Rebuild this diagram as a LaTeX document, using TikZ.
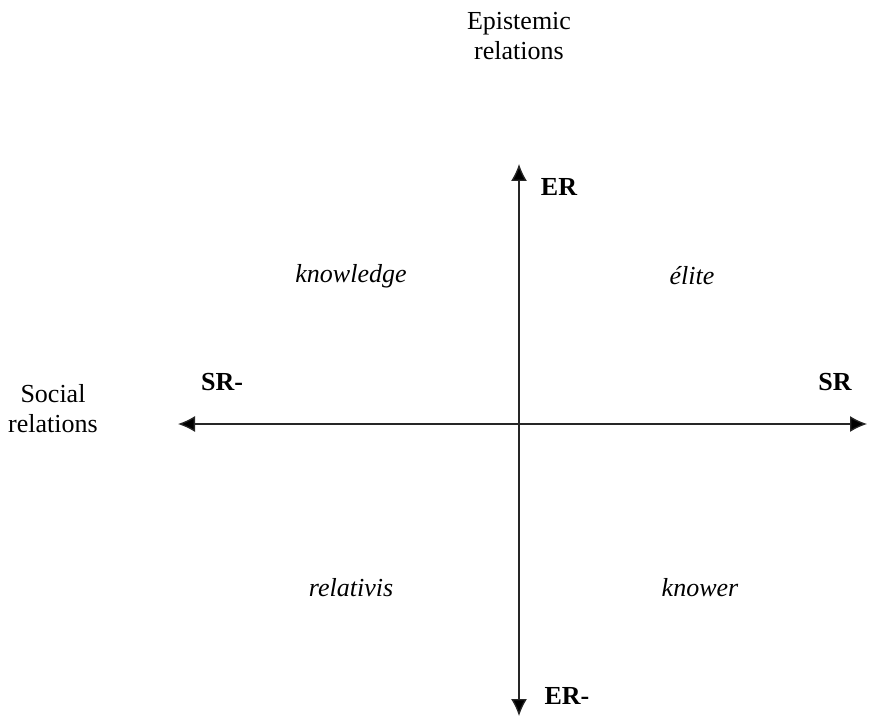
\documentclass[tikz,border=0pt]{standalone}
\usepackage{fontspec}
\setmainfont{Liberation Serif}
\usetikzlibrary{arrows.meta}
\begin{document}
\begin{tikzpicture}[x=1pt,y=-1pt,
  axis/.style={line width=1.3pt,draw=black!85,{Latex[length=17pt,width=16pt,fill=black]}-{Latex[length=17pt,width=16pt,fill=black]}},
  lbl/.style={font=\fontsize{26}{30}\selectfont,inner sep=0pt,align=center},
  pole/.style={font=\fontsize{26}{30}\selectfont\bfseries,inner sep=0pt},
  quad/.style={font=\fontsize{26}{30}\selectfont\itshape,inner sep=0pt}]
\useasboundingbox (0,0) rectangle (872,719);
\coordinate (top) at (519,164);
\coordinate (bot) at (519,716);
\coordinate (left) at (178,424);
\coordinate (right) at (867,424);
\draw[axis] (bot) -- (top);
\draw[axis] (left) -- (right);
\node[lbl] (ert) at (519,36) {Epistemic\\relations};
\node[lbl] (srt) at (53,409) {Social\\relations};
\node[pole] (er) at (559,187) {ER};
\node[pole] (erm) at (567,696) {ER-};
\node[pole] (srm) at (222,382) {SR-};
\node[pole] (sr) at (835,382) {SR};
\node[quad] (kn) at (351,276) {knowledge};
\node[quad] (el) at (692,276) {élite};
\node[quad] (re) at (351,588) {relativis};
\node[quad] (kw) at (700,588) {knower};
\end{tikzpicture}
\end{document}
